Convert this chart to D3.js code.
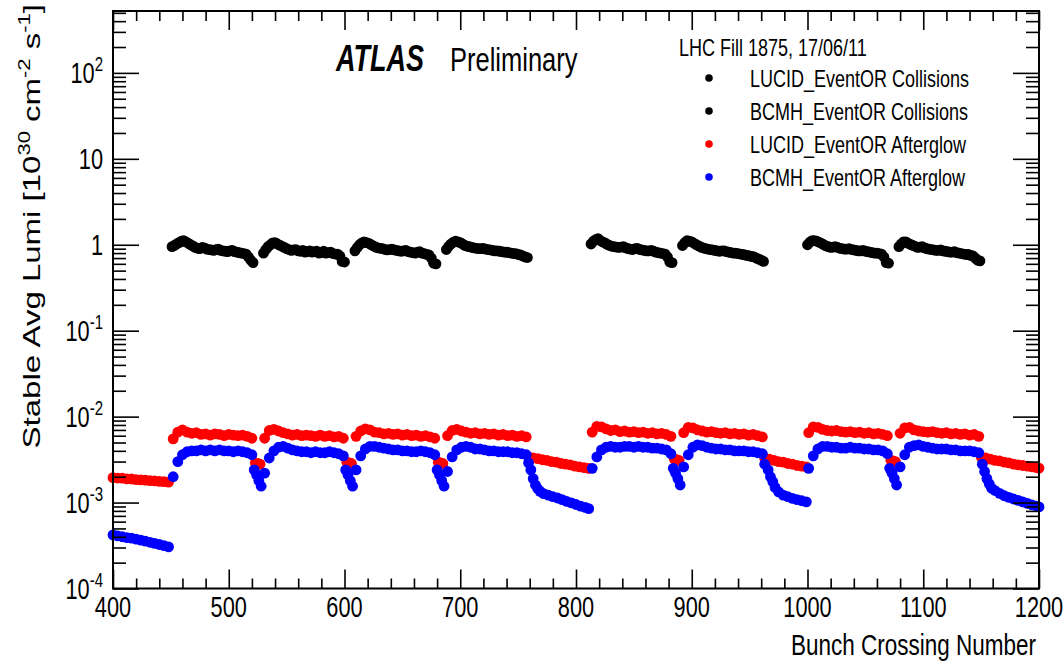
<!DOCTYPE html>
<html>
<head>
<meta charset="utf-8">
<script src="https://cdn.jsdelivr.net/npm/d3@7"></script>
<style>
body { margin: 0; background: #fff; }
svg text { font-family: "Liberation Sans", Arial, Helvetica, sans-serif; fill: #000; }
</style>
</head>
<body>
<script>
// first filled bunch of each 36-bunch train (50 ns spacing)
const trainStart = [451, 530, 609, 688, 813, 892, 1000, 1079];
const sampleStep = 4; // every other colliding bunch is listed

// collisions, LUCID_EventOR (bunch = start + 4*i)
const lucidColl = [
	[0.95, 1.02, 1.10, 1.08, 1.00, 0.93, 0.90, 0.92, 0.88, 0.86, 0.89, 0.85, 0.83, 0.86, 0.82, 0.80, 0.78, 0.66],
	[0.80, 0.95, 1.05, 1.02, 0.96, 0.90, 0.86, 0.88, 0.84, 0.82, 0.85, 0.83, 0.80, 0.84, 0.81, 0.79, 0.78, 0.64],
	[0.85, 1.00, 1.08, 1.04, 0.97, 0.92, 0.90, 0.87, 0.89, 0.86, 0.84, 0.86, 0.82, 0.80, 0.83, 0.79, 0.76, 0.61],
	[0.88, 1.02, 1.10, 1.06, 0.98, 0.95, 0.92, 0.90, 0.91, 0.88, 0.86, 0.85, 0.83, 0.82, 0.80, 0.79, 0.76, 0.72],
	[1.02, 1.15, 1.12, 1.05, 0.98, 0.95, 0.93, 0.95, 0.90, 0.88, 0.91, 0.87, 0.85, 0.86, 0.82, 0.80, 0.78, 0.63],
	[0.98, 1.12, 1.08, 1.00, 0.94, 0.90, 0.88, 0.86, 0.84, 0.85, 0.82, 0.80, 0.79, 0.77, 0.75, 0.73, 0.70, 0.66],
	[1.00, 1.12, 1.10, 1.04, 0.97, 0.93, 0.95, 0.91, 0.89, 0.90, 0.87, 0.85, 0.86, 0.83, 0.81, 0.80, 0.78, 0.62],
	[0.95, 1.08, 1.04, 0.98, 0.93, 0.95, 0.90, 0.88, 0.86, 0.87, 0.84, 0.82, 0.83, 0.80, 0.78, 0.77, 0.74, 0.66]
];

// collisions, BCMH_EventOR (bunch = start + 2 + 4*i)
const bcmhColl = [
	[0.98, 1.06, 1.12, 1.04, 0.97, 0.91, 0.93, 0.89, 0.87, 0.88, 0.86, 0.84, 0.85, 0.83, 0.81, 0.79, 0.72, 0.62],
	[0.88, 1.00, 1.06, 0.99, 0.93, 0.88, 0.87, 0.85, 0.86, 0.83, 0.82, 0.84, 0.81, 0.80, 0.82, 0.78, 0.74, 0.63],
	[0.93, 1.05, 1.06, 1.00, 0.94, 0.91, 0.88, 0.88, 0.87, 0.85, 0.85, 0.83, 0.81, 0.82, 0.80, 0.77, 0.70, 0.60],
	[0.96, 1.07, 1.08, 1.02, 0.96, 0.93, 0.91, 0.90, 0.89, 0.87, 0.85, 0.84, 0.82, 0.81, 0.79, 0.77, 0.74, 0.71],
	[1.10, 1.18, 1.08, 1.01, 0.96, 0.94, 0.94, 0.92, 0.89, 0.90, 0.88, 0.86, 0.85, 0.84, 0.81, 0.79, 0.72, 0.62],
	[1.06, 1.10, 1.04, 0.97, 0.92, 0.89, 0.87, 0.85, 0.85, 0.83, 0.81, 0.80, 0.78, 0.76, 0.74, 0.72, 0.68, 0.64],
	[1.07, 1.12, 1.07, 1.00, 0.95, 0.94, 0.93, 0.90, 0.89, 0.88, 0.86, 0.85, 0.84, 0.82, 0.80, 0.79, 0.72, 0.61],
	[1.02, 1.08, 1.01, 0.96, 0.94, 0.92, 0.89, 0.87, 0.86, 0.85, 0.83, 0.82, 0.81, 0.79, 0.77, 0.75, 0.70, 0.65]
];

// afterglow in the empty slots inside the trains (bunch = start + 1 + 4*i)
const lucidGlowTrain = [
	[5.5e-3, 6.6e-3, 7.0e-3, 6.6e-3, 6.4e-3, 6.5e-3, 6.2e-3, 6.3e-3, 6.1e-3, 6.3e-3, 6.2e-3, 6.0e-3, 6.2e-3, 6.1e-3, 6.0e-3, 6.1e-3, 5.9e-3, 5.6e-3],
	[5.6e-3, 6.9e-3, 7.1e-3, 6.8e-3, 6.5e-3, 6.3e-3, 6.1e-3, 6.2e-3, 6.0e-3, 6.1e-3, 6.0e-3, 5.9e-3, 6.1e-3, 5.9e-3, 6.0e-3, 5.8e-3, 5.9e-3, 5.6e-3],
	[5.9e-3, 6.8e-3, 7.2e-3, 7.0e-3, 6.6e-3, 6.5e-3, 6.3e-3, 6.4e-3, 6.2e-3, 6.3e-3, 6.1e-3, 6.2e-3, 6.0e-3, 6.1e-3, 5.9e-3, 6.0e-3, 5.8e-3, 5.6e-3],
	[6.0e-3, 6.9e-3, 7.1e-3, 6.8e-3, 6.6e-3, 6.4e-3, 6.5e-3, 6.3e-3, 6.4e-3, 6.2e-3, 6.3e-3, 6.1e-3, 6.2e-3, 6.0e-3, 6.1e-3, 5.9e-3, 6.0e-3, 5.8e-3],
	[6.6e-3, 7.7e-3, 7.6e-3, 7.2e-3, 6.9e-3, 7.0e-3, 6.7e-3, 6.8e-3, 6.6e-3, 6.7e-3, 6.5e-3, 6.6e-3, 6.4e-3, 6.5e-3, 6.3e-3, 6.4e-3, 6.2e-3, 5.9e-3],
	[6.5e-3, 7.5e-3, 7.4e-3, 7.0e-3, 6.8e-3, 6.6e-3, 6.7e-3, 6.5e-3, 6.4e-3, 6.5e-3, 6.3e-3, 6.4e-3, 6.2e-3, 6.3e-3, 6.1e-3, 6.2e-3, 6.0e-3, 5.8e-3],
	[6.5e-3, 7.6e-3, 7.5e-3, 7.1e-3, 6.9e-3, 6.8e-3, 6.9e-3, 6.7e-3, 6.6e-3, 6.7e-3, 6.5e-3, 6.6e-3, 6.4e-3, 6.5e-3, 6.3e-3, 6.4e-3, 6.2e-3, 6.0e-3],
	[6.4e-3, 7.4e-3, 7.5e-3, 7.0e-3, 6.8e-3, 6.7e-3, 6.6e-3, 6.7e-3, 6.5e-3, 6.4e-3, 6.5e-3, 6.3e-3, 6.4e-3, 6.2e-3, 6.3e-3, 6.1e-3, 6.2e-3, 5.9e-3]
];

const bcmhGlowTrain = [
	[2.0e-3, 3.0e-3, 3.6e-3, 3.9e-3, 4.0e-3, 4.0e-3, 4.1e-3, 4.0e-3, 4.1e-3, 4.0e-3, 4.1e-3, 4.0e-3, 4.0e-3, 3.9e-3, 4.0e-3, 3.9e-3, 3.8e-3, 3.6e-3],
	[2.2e-3, 3.3e-3, 4.0e-3, 4.4e-3, 4.5e-3, 4.3e-3, 4.1e-3, 4.0e-3, 3.9e-3, 3.9e-3, 3.8e-3, 3.9e-3, 3.8e-3, 3.8e-3, 3.9e-3, 3.8e-3, 3.7e-3, 3.5e-3],
	[2.4e-3, 3.5e-3, 4.2e-3, 4.5e-3, 4.5e-3, 4.4e-3, 4.3e-3, 4.2e-3, 4.1e-3, 4.1e-3, 4.0e-3, 4.0e-3, 3.9e-3, 3.9e-3, 4.0e-3, 3.9e-3, 3.8e-3, 3.6e-3],
	[2.3e-3, 3.4e-3, 4.1e-3, 4.4e-3, 4.5e-3, 4.4e-3, 4.2e-3, 4.2e-3, 4.1e-3, 4.0e-3, 4.0e-3, 3.9e-3, 3.9e-3, 3.9e-3, 3.8e-3, 3.8e-3, 3.7e-3, 3.6e-3],
	[2.5e-3, 3.4e-3, 4.1e-3, 4.4e-3, 4.5e-3, 4.4e-3, 4.4e-3, 4.5e-3, 4.5e-3, 4.4e-3, 4.5e-3, 4.4e-3, 4.4e-3, 4.3e-3, 4.3e-3, 4.2e-3, 4.1e-3, 3.7e-3],
	[2.6e-3, 3.6e-3, 4.4e-3, 4.7e-3, 4.6e-3, 4.4e-3, 4.3e-3, 4.2e-3, 4.2e-3, 4.1e-3, 4.1e-3, 4.0e-3, 4.0e-3, 4.0e-3, 3.9e-3, 3.9e-3, 3.8e-3, 3.7e-3],
	[2.5e-3, 3.5e-3, 4.2e-3, 4.5e-3, 4.5e-3, 4.4e-3, 4.4e-3, 4.3e-3, 4.3e-3, 4.4e-3, 4.3e-3, 4.3e-3, 4.2e-3, 4.2e-3, 4.1e-3, 4.1e-3, 4.0e-3, 3.7e-3],
	[2.6e-3, 3.6e-3, 4.4e-3, 4.6e-3, 4.7e-3, 4.5e-3, 4.4e-3, 4.3e-3, 4.2e-3, 4.2e-3, 4.2e-3, 4.1e-3, 4.1e-3, 4.0e-3, 4.0e-3, 4.0e-3, 3.9e-3, 3.8e-3]
];

// afterglow between trains: [bunch, lumi]
const lucidGlowGap = [
	[400, 1.95e-3], [404, 1.93e-3], [408, 1.92e-3], [412, 1.89e-3], [416, 1.88e-3], [420, 1.85e-3], [424, 1.84e-3],
	[428, 1.82e-3], [432, 1.80e-3], [436, 1.79e-3], [440, 1.76e-3], [444, 1.75e-3], [448, 1.73e-3],
	[523, 2.9e-3], [525, 2.85e-3], [527, 2.8e-3],
	[602, 2.95e-3], [604, 2.9e-3], [606, 2.85e-3],
	[681, 2.95e-3], [683, 2.9e-3], [685, 2.85e-3],
	[759, 3.4e-3], [763, 3.3e-3], [767, 3.25e-3], [771, 3.15e-3], [775, 3.1e-3], [779, 3.0e-3], [783, 2.95e-3],
	[787, 2.85e-3], [791, 2.8e-3], [795, 2.75e-3], [799, 2.65e-3], [803, 2.6e-3], [807, 2.55e-3], [811, 2.5e-3],
	[885, 3.2e-3], [887, 3.15e-3], [889, 3.1e-3],
	[963, 3.3e-3], [967, 3.2e-3], [971, 3.1e-3], [975, 3.0e-3], [979, 2.95e-3], [983, 2.85e-3], [987, 2.8e-3],
	[991, 2.7e-3], [995, 2.65e-3], [999, 2.6e-3],
	[1072, 3.1e-3], [1074, 3.05e-3], [1076, 3.0e-3],
	[1150, 3.4e-3], [1154, 3.3e-3], [1158, 3.2e-3], [1162, 3.1e-3], [1166, 3.05e-3], [1170, 2.95e-3], [1174, 2.9e-3],
	[1178, 2.8e-3], [1182, 2.75e-3], [1186, 2.7e-3], [1190, 2.65e-3], [1194, 2.6e-3], [1198, 2.55e-3], [1200, 2.52e-3]
];

const bcmhGlowGap = [
	[400, 4.2e-4], [404, 4.1e-4], [408, 4.0e-4], [412, 3.9e-4], [416, 3.85e-4], [420, 3.75e-4], [424, 3.65e-4],
	[428, 3.55e-4], [432, 3.45e-4], [436, 3.35e-4], [440, 3.25e-4], [444, 3.15e-4], [448, 3.05e-4],
	[522, 2.4e-3], [524, 2.1e-3], [526, 1.8e-3], [528, 1.55e-3],
	[601, 2.4e-3], [603, 2.1e-3], [605, 1.8e-3], [607, 1.55e-3],
	[680, 2.4e-3], [682, 2.1e-3], [684, 1.8e-3], [686, 1.55e-3],
	[759, 2.9e-3], [761, 2.4e-3], [763, 1.9e-3], [765, 1.6e-3], [767, 1.45e-3], [769, 1.35e-3], [772, 1.27e-3],
	[776, 1.22e-3], [780, 1.17e-3], [784, 1.13e-3], [788, 1.08e-3], [792, 1.03e-3], [796, 9.9e-4], [800, 9.5e-4],
	[804, 9.1e-4], [808, 8.8e-4], [811, 8.5e-4],
	[884, 2.5e-3], [886, 2.2e-3], [888, 1.9e-3], [890, 1.6e-3],
	[963, 2.8e-3], [966, 2.4e-3], [968, 2.0e-3], [970, 1.75e-3], [972, 1.5e-3], [975, 1.33e-3], [979, 1.22e-3],
	[983, 1.17e-3], [987, 1.12e-3], [991, 1.08e-3], [995, 1.05e-3], [999, 1.02e-3],
	[1071, 2.5e-3], [1073, 2.2e-3], [1075, 1.9e-3], [1077, 1.6e-3],
	[1151, 2.8e-3], [1153, 2.3e-3], [1155, 1.9e-3], [1157, 1.65e-3], [1159, 1.47e-3], [1162, 1.38e-3], [1166, 1.28e-3],
	[1170, 1.2e-3], [1174, 1.15e-3], [1178, 1.1e-3], [1182, 1.06e-3], [1186, 1.02e-3], [1190, 9.8e-4], [1194, 9.4e-4],
	[1198, 9.1e-4], [1200, 8.9e-4]
];

// axis labels
const xTickVals = [400, 500, 600, 700, 800, 900, 1000, 1100, 1200];
const yTickVals = [1e-4, 1e-3, 1e-2, 1e-1, 1, 10, 100];
const yTickBase = ["10", "10", "10", "10", "1", "10", "10"];
const yTickExp = ["-4", "-3", "-2", "-1", "", "", "2"];

const legendHeader = "LHC Fill 1875, 17/06/11";
const legendLabels = ["LUCID_EventOR Collisions", "BCMH_EventOR Collisions", "LUCID_EventOR Afterglow", "BCMH_EventOR Afterglow"];
const seriesColors = ["#000000", "#000000", "#ff0000", "#0000ff"];

const SX = 0.75; //the original canvas is squeezed sideways, so text is too

let svg = d3.select("body").append("svg")
	.attr("width", 1064)
	.attr("height", 662);

svg.append("rect").attr("width", 1064).attr("height", 662).attr("fill", "#fff");

//frame of the pad
let frame = {left: 113, right: 1039, top: 11, bottom: 588.5};

let x = d3.scaleLinear()
	.domain([400, 1200])
	.range([frame.left, frame.right]);

let y = d3.scaleLog()
	.domain([1e-4, 525])
	.range([frame.bottom, frame.top]);

/*

	BUILD POINTS

*/

function trainPoints(vals, offset) {
	return vals.flatMap((row, t) => row.map((v, i) => ({bx: trainStart[t] + offset + sampleStep * i, v: v})));
}

function gapPoints(pairs) {
	return pairs.map(p => ({bx: p[0], v: p[1]}));
}

let series = [
	trainPoints(lucidColl, 0),
	trainPoints(bcmhColl, 2),
	trainPoints(lucidGlowTrain, 1).concat(gapPoints(lucidGlowGap)),
	trainPoints(bcmhGlowTrain, 1).concat(gapPoints(bcmhGlowGap))
];

let dots = svg.append("g");
series.forEach((pts, s) => {
	dots.append("g")
		.attr("fill", seriesColors[s])
		.selectAll("circle")
		.data(pts)
		.join("circle")
		.attr("cx", d => x(d.bx))
		.attr("cy", d => y(d.v))
		.attr("r", 5.4);
});

/*

	AXES

*/

function styleAxis(g) {
	g.select(".domain").remove();
	g.selectAll("line").attr("stroke", "#000").attr("stroke-width", 1.6);
	g.selectAll("text").remove();
}

let xMajor = xTickVals;
let xMinor = d3.range(400, 1201, 20).filter(v => v % 100 !== 0);

svg.append("g").attr("transform", `translate(0,${frame.bottom})`)
	.call(d3.axisBottom(x).tickValues(xMajor).tickSizeInner(-19).tickSizeOuter(0)).call(styleAxis);
svg.append("g").attr("transform", `translate(0,${frame.bottom})`)
	.call(d3.axisBottom(x).tickValues(xMinor).tickSizeInner(-10).tickSizeOuter(0)).call(styleAxis);
svg.append("g").attr("transform", `translate(0,${frame.top})`)
	.call(d3.axisTop(x).tickValues(xMajor).tickSizeInner(-19).tickSizeOuter(0)).call(styleAxis);
svg.append("g").attr("transform", `translate(0,${frame.top})`)
	.call(d3.axisTop(x).tickValues(xMinor).tickSizeInner(-10).tickSizeOuter(0)).call(styleAxis);

let yMinor = [];
d3.range(-4, 3).forEach(e => {
	d3.range(2, 10).forEach(k => {
		let v = k * Math.pow(10, e);
		if (v < 525) yMinor.push(v);
	});
});

svg.append("g").attr("transform", `translate(${frame.left},0)`)
	.call(d3.axisLeft(y).tickValues(yTickVals).tickSizeInner(-26).tickSizeOuter(0)).call(styleAxis);
svg.append("g").attr("transform", `translate(${frame.left},0)`)
	.call(d3.axisLeft(y).tickValues(yMinor).tickSizeInner(-13).tickSizeOuter(0)).call(styleAxis);
svg.append("g").attr("transform", `translate(${frame.right},0)`)
	.call(d3.axisRight(y).tickValues(yTickVals).tickSizeInner(-26).tickSizeOuter(0)).call(styleAxis);
svg.append("g").attr("transform", `translate(${frame.right},0)`)
	.call(d3.axisRight(y).tickValues(yMinor).tickSizeInner(-13).tickSizeOuter(0)).call(styleAxis);

svg.append("rect") //the frame
	.attr("x", frame.left)
	.attr("y", frame.top)
	.attr("width", frame.right - frame.left)
	.attr("height", frame.bottom - frame.top)
	.attr("fill", "none")
	.attr("stroke", "#000")
	.attr("stroke-width", 2);

//squeezed text helper
function label(px, py, str, size, anchor) {
	return svg.append("text")
		.attr("transform", `translate(${px},${py}) scale(${SX},1)`)
		.attr("text-anchor", anchor)
		.attr("font-size", size)
		.text(str);
}

xTickVals.forEach(v => label(x(v), 617, v, 29, "middle"));

yTickVals.forEach((v, i) => {
	let t = label(103, y(v) + 10, "", 29, "end");
	t.append("tspan").text(yTickBase[i]);
	if (yTickExp[i]) t.append("tspan").attr("font-size", 20).attr("dy", -12).text(yTickExp[i]);
});

label(1036, 655, "Bunch Crossing Number", 30, "end");

//y title, rotated, squeezed across its height
let yt = svg.append("text")
	.attr("transform", `translate(40,4) rotate(-90) scale(1,${SX})`)
	.attr("text-anchor", "end")
	.attr("font-size", 33);
yt.append("tspan").text("Stable Avg Lumi [10");
yt.append("tspan").attr("font-size", 22).attr("dy", -13).text("30");
yt.append("tspan").attr("dy", 13).text(" cm");
yt.append("tspan").attr("font-size", 22).attr("dy", -13).text("-2");
yt.append("tspan").attr("dy", 13).text(" s");
yt.append("tspan").attr("font-size", 22).attr("dy", -13).text("-1");
yt.append("tspan").attr("dy", 13).text("]");

/*

	ATLAS LABEL AND LEGEND

*/

label(336, 71, "ATLAS", 36, "start")
	.attr("font-weight", "bold")
	.attr("font-style", "italic");
label(450, 71, "Preliminary", 34, "start");

label(679, 56, legendHeader, 24, "start");

let legendY = [78, 111, 144, 177];
legendLabels.forEach((name, i) => {
	svg.append("circle")
		.attr("cx", 709)
		.attr("cy", legendY[i])
		.attr("r", 3.8)
		.attr("fill", seriesColors[i]);
	label(750, legendY[i] + 8.5, name, 24, "start");
});
</script>
</body>
</html>
